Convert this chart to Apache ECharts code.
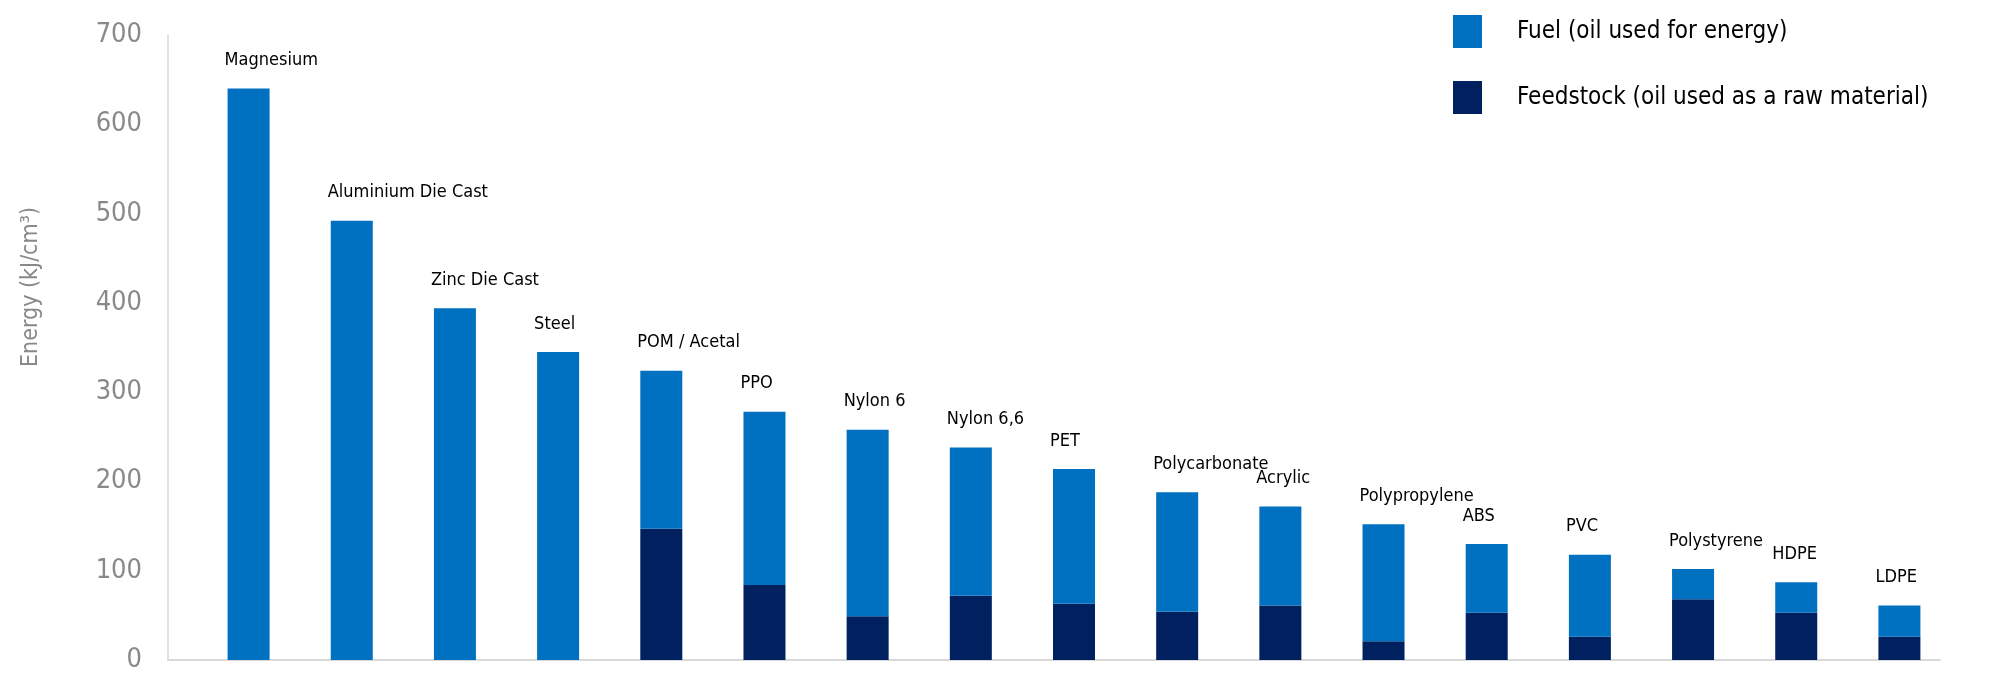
<!DOCTYPE html>
<html lang="en">
<head>
  <meta charset="UTF-8">
  <title>Energy content of materials</title>
  <script src="https://cdn.jsdelivr.net/npm/echarts@6/dist/echarts.min.js"></script>
  <style>
    * { margin: 0; padding: 0; box-sizing: border-box; }
    body { background: #fff; }
    #chart { width: 2004px; height: 696px; }
  </style>
</head>
<body>
  <div id="chart"></div>
  <script>
    // values (kJ/cm3)
    const categories = [
      'Magnesium', 'Aluminium Die Cast', 'Zinc Die Cast', 'Steel', 'POM / Acetal',
      'PPO', 'Nylon 6', 'Nylon 6,6', 'PET', 'Polycarbonate', 'Acrylic',
      'Polypropylene', 'ABS', 'PVC', 'Polystyrene', 'HDPE', 'LDPE'
    ];
    const feedstock = [0, 0, 0, 0, 147, 84, 49, 72, 63, 54, 61, 21, 53, 26, 68, 53, 26];
    const fuel = [640, 492, 394, 345, 177, 194, 209, 166, 151, 134, 111, 131, 77, 92, 34, 34, 35];
    const yTicks = [0, 100, 200, 300, 400, 500, 600, 700];

    const FONT = '"DejaVu Sans Condensed", "Liberation Sans Narrow", sans-serif';
    const GREY = '#898989';

    const chart = echarts.init(document.getElementById('chart'));

    const option = {
      animation: false,
      textStyle: { fontFamily: FONT },
      legend: {
        orient: 'vertical',
        left: 1448,
        top: 10,
        itemWidth: 29,
        itemHeight: 33,
        itemGap: 33,
        icon: 'rect',
        data: ['Fuel (oil used for energy)', 'Feedstock (oil used as a raw material)'],
        textStyle: { fontFamily: FONT, fontSize: 24, color: '#000', padding: [0, 0, 0, 30] }
      },
      grid: [
        { left: 197, right: 53, top: 35, bottom: 36 },
        // carries only the baseline, which starts at the y axis
        { left: 168, right: 64, top: 35, bottom: 36 }
      ],
      xAxis: [
        {
          type: 'category',
          gridIndex: 0,
          data: categories,
          axisLine: { show: false },
          axisTick: { show: false },
          axisLabel: { show: false }
        },
        {
          type: 'value',
          gridIndex: 1,
          min: 0,
          max: 1,
          axisLine: { show: true, lineStyle: { color: '#d9d9d9', width: 2 } },
          axisTick: { show: false },
          axisLabel: { show: false },
          splitLine: { show: false }
        }
      ],
      yAxis: [
        {
          type: 'value',
          gridIndex: 0,
          min: yTicks[0],
          max: yTicks[yTicks.length - 1],
          interval: yTicks[1] - yTicks[0],
          offset: 29,
          axisLine: { show: true, lineStyle: { color: '#d9d9d9', width: 1.5 } },
          axisTick: { show: false },
          splitLine: { show: false },
          axisLabel: { color: GREY, fontSize: 27, fontFamily: FONT, margin: 26 }
        },
        { type: 'value', gridIndex: 1, show: false }
      ],
      graphic: [
        {
          type: 'text',
          x: 31,
          y: 287,
          rotation: Math.PI / 2,
          style: {
            text: 'Energy (kJ/cm³)',
            fill: GREY,
            font: '23px ' + FONT,
            align: 'center',
            verticalAlign: 'middle'
          }
        }
      ],
      series: [
        {
          name: 'Feedstock (oil used as a raw material)',
          type: 'bar',
          stack: 'oil',
          barWidth: 42,
          data: feedstock,
          itemStyle: { color: '#002060' }
        },
        {
          name: 'Fuel (oil used for energy)',
          type: 'bar',
          stack: 'oil',
          barWidth: 42,
          data: fuel,
          itemStyle: { color: '#0070c0' },
          label: {
            show: true,
            formatter: '{b}',
            position: [-3, -28],
            align: 'left',
            verticalAlign: 'middle',
            color: '#000',
            fontSize: 18,
            fontFamily: FONT
          }
        }
      ]
    };

    chart.setOption(option);
  </script>
</body>
</html>
